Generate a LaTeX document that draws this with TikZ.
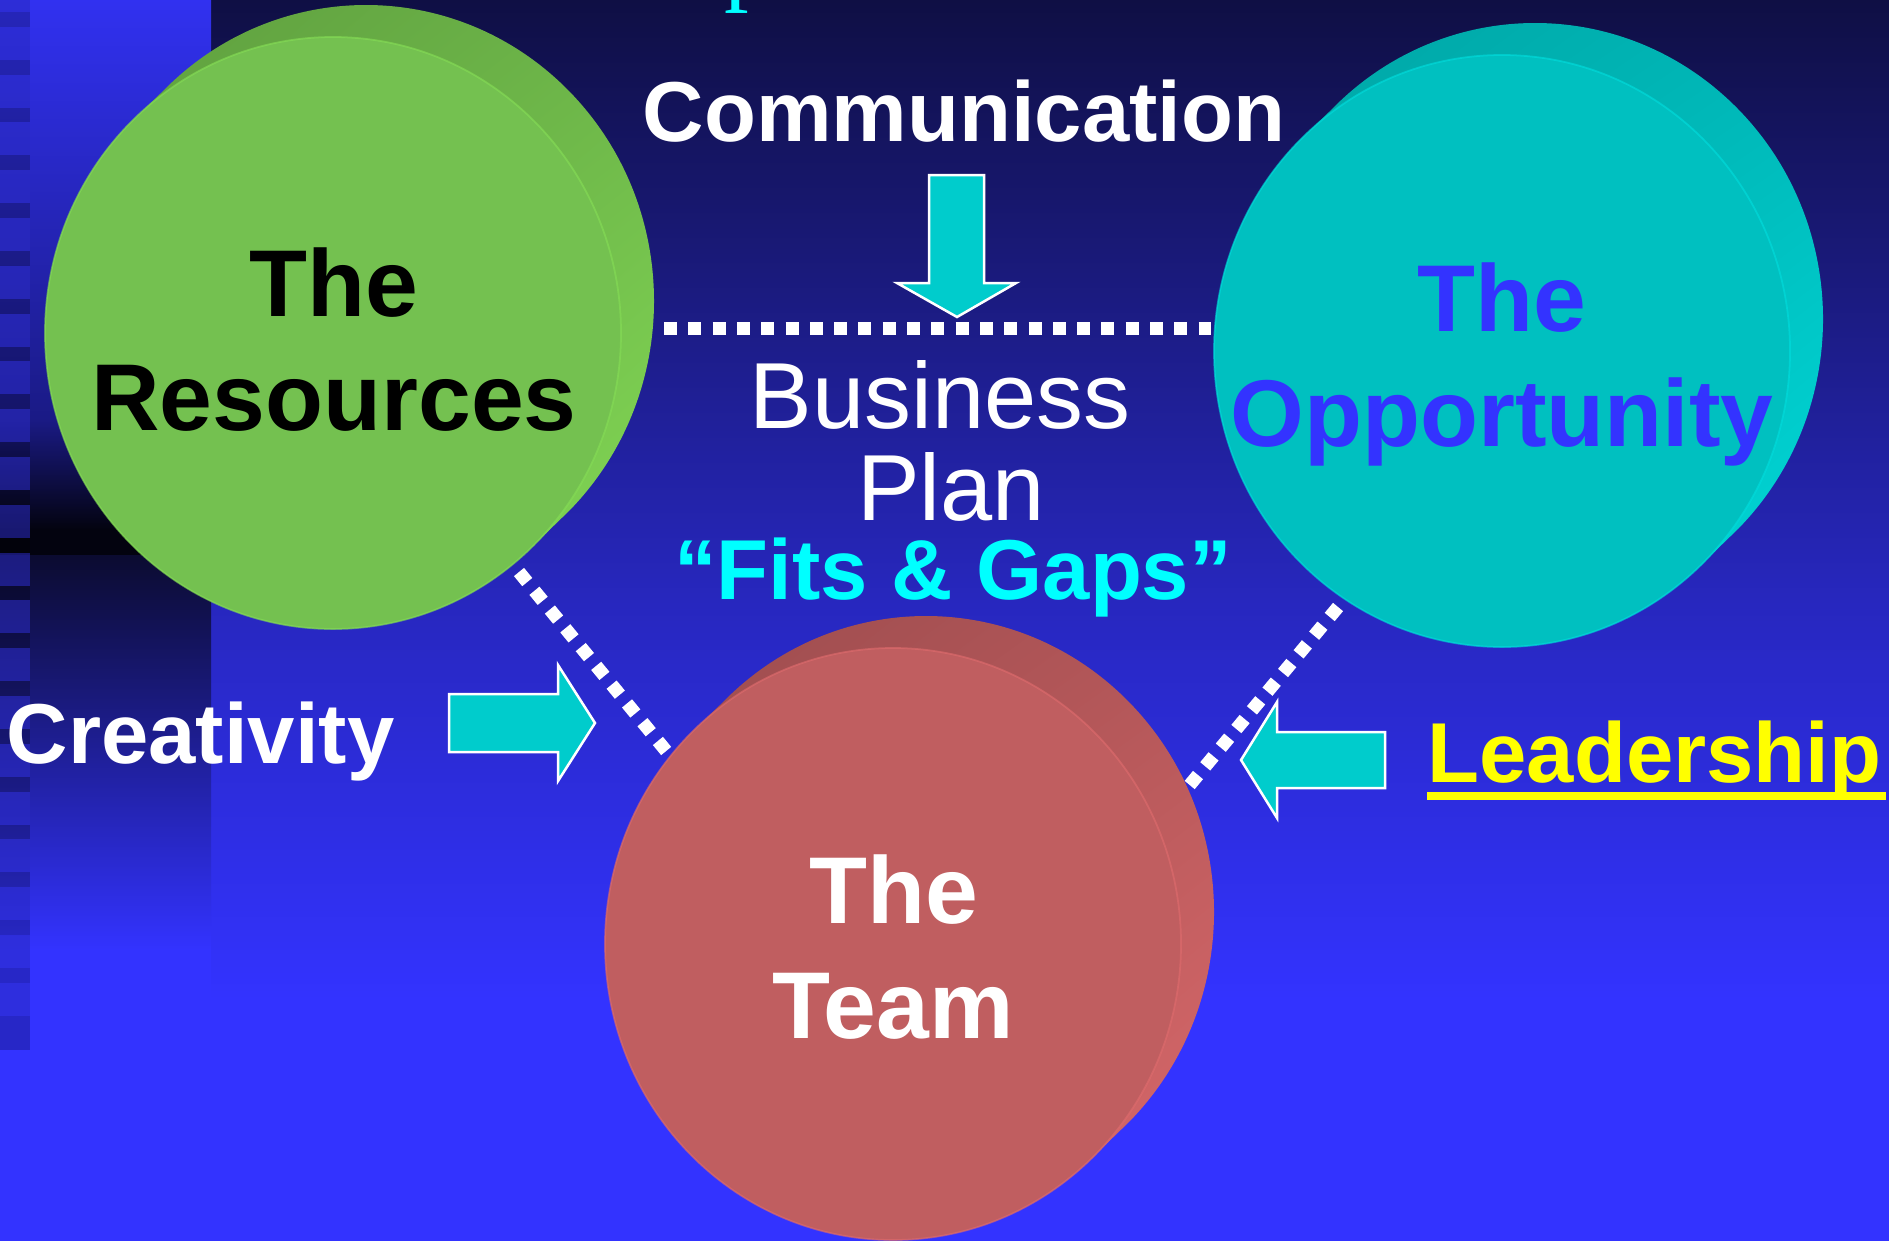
\documentclass[tikz,border=0pt]{standalone}
\usepackage{fontspec}
\setmainfont{Liberation Sans}
\newfontfamily\titleserif{Liberation Serif}
\usepackage{xcolor}
\usepackage{tikz}
\usetikzlibrary{positioning,calc,shadings}

\definecolor{bgtop}{HTML}{0F0F44}
\definecolor{bgmid}{HTML}{2727BE}
\definecolor{bgbot}{HTML}{3333FF}
\definecolor{striptop}{HTML}{3131F0}
\definecolor{stripmid}{HTML}{1A1A85}
\definecolor{stripdark}{HTML}{03030F}
\definecolor{stripnavy}{HTML}{0B0B30}
\definecolor{sqblue}{HTML}{3838FF}
\definecolor{arrowcyan}{HTML}{00CCCC}
\definecolor{fitscyan}{HTML}{00FFFF}
\definecolor{oppblue}{HTML}{3333FF}
\definecolor{leadyellow}{HTML}{FFFF00}
\definecolor{resface}{HTML}{74C150}
\definecolor{resdark}{HTML}{5C9A3C}
\definecolor{resmid}{HTML}{6CB449}
\definecolor{resbright}{HTML}{86DE56}
\definecolor{oppface}{HTML}{00C0C0}
\definecolor{oppdark}{HTML}{00A2A2}
\definecolor{oppmid}{HTML}{00B6B6}
\definecolor{oppbright}{HTML}{00DEDE}
\definecolor{teamface}{HTML}{C05E60}
\definecolor{teamdark}{HTML}{984A4C}
\definecolor{teammid}{HTML}{B25658}
\definecolor{teambright}{HTML}{E06C6E}

\begin{document}
\begin{tikzpicture}[
    bigword/.style={font=\fontsize{27}{33}\selectfont\bfseries, inner sep=0pt, anchor=base},
    midword/.style={font=\fontsize{24.2}{28}\selectfont\bfseries, inner sep=0pt, anchor=base},
    planword/.style={font=\fontsize{26.7}{26}\selectfont, text=white, inner sep=0pt, anchor=base},
    blockarrow/.style={fill=arrowcyan, draw=white, line width=0.025cm, line join=miter},
    dotline/.style={white, line width=0.13cm, dash pattern=on 0.13cm off 0.113cm}
]
    \useasboundingbox (0,0) rectangle (18.89,-12.41);
    \clip (0,0) rectangle (18.89,-12.41);

    % Background
    \shade[top color=bgtop, bottom color=bgmid] (0,0) rectangle (18.89,-6.0);
    \shade[top color=bgmid, bottom color=bgbot] (0,-5.99) rectangle (18.89,-10.0);
    \fill[bgbot] (0,-9.99) rectangle (18.89,-12.41);

    % Left strip
    \shade[top color=striptop, bottom color=stripmid] (0,0) rectangle (2.11,-4.2);
    \shade[top color=stripmid, bottom color=stripdark] (0,-4.19) rectangle (2.11,-5.3);
    \fill[stripdark] (0,-5.29) rectangle (2.11,-5.56);
    \shade[top color=stripnavy, bottom color=bgbot] (0,-5.55) rectangle (2.11,-9.5);
    \fill[bgbot] (0,-9.49) rectangle (2.11,-12.41);

    % Squares down the edge
    \fill[black, opacity=0.22] (0,0) rectangle (0.30,-10.5);
    \foreach \k in {0,...,21}
        \fill[sqblue, opacity=0.42] (0,{0.21-0.478*\k}) rectangle (0.30,{-0.12-0.478*\k});

    % Top fragment
    \node[font=\titleserif\fontsize{28}{30}\selectfont, text=fitscyan, inner sep=0pt, anchor=base west] (titlep) at (7.24,0.08) {p};

    % Circles (side, then face)
    \foreach \cx/\cy/\cname in {3.33/-3.33/res, 15.02/-3.51/opp, 8.93/-9.44/team}{
        \shade[shading=bilinear interpolation, upper left=\cname dark, upper right=\cname mid,
               lower left=\cname mid, lower right=\cname bright]
            (\cx,\cy) ++(135:2.88 and 2.96) -- ++(0.33,0.32)
            arc[start angle=135, end angle=-45, x radius=2.88, y radius=2.96]
            -- ++(-0.33,-0.32)
            arc[start angle=-45, end angle=-225, x radius=2.88, y radius=2.96] -- cycle;
        \fill[\cname face, draw=\cname bright, draw opacity=0.6, line width=0.5pt]
            (\cx,\cy) ellipse [x radius=2.88, y radius=2.96];
    }
    \coordinate (res) at (3.33,-3.33);
    \coordinate (opp) at (15.02,-3.51);
    \coordinate (team) at (8.93,-9.44);

    % Circle labels
    \node[bigword] (resthe) at (3.34,-3.16) {The};
    \node[bigword] (resname) at (3.34,-4.30) {Resources};
    \node[bigword, text=oppblue] (oppthe) at (15.02,-3.31) {The};
    \node[bigword, text=oppblue] (oppname) at (15.02,-4.46) {Opportunity};
    \node[bigword, text=white] (teamthe) at (8.94,-9.23) {The};
    \node[bigword, text=white] (teamname) at (8.93,-10.38) {Team};

    % Dotted links
    \coordinate (hdotL) at (6.64,-3.28);
    \coordinate (hdotR) at (12.11,-3.28);
    \coordinate (ldotA) at (5.19,-5.72);
    \coordinate (ldotB) at (6.67,-7.52);
    \coordinate (rdotA) at (13.38,-6.07);
    \coordinate (rdotB) at (11.88,-7.87);
    \draw[dotline] (hdotL) -- (hdotR);
    \draw[dotline] (ldotA) -- (ldotB);
    \draw[dotline] (rdotA) -- (rdotB);

    % Block arrows
    \draw[blockarrow] (9.29,-1.75) -- (9.84,-1.75) -- (9.84,-2.83) -- (10.16,-2.83)
        -- (9.57,-3.17) -- (8.97,-2.83) -- (9.29,-2.83) -- cycle;
    \draw[blockarrow] (4.49,-6.94) -- (5.58,-6.94) -- (5.58,-6.65) -- (5.95,-7.23)
        -- (5.58,-7.81) -- (5.58,-7.52) -- (4.49,-7.52) -- cycle;
    \draw[blockarrow] (13.85,-7.32) -- (12.77,-7.32) -- (12.77,-7.02) -- (12.41,-7.60)
        -- (12.77,-8.18) -- (12.77,-7.88) -- (13.85,-7.88) -- cycle;

    % Middle text
    \node[midword, text=white] (comm) at (9.64,-1.41) {Communication};
    \node[planword] (business) at (9.40,-4.28) {Business};
    \node[planword] (plan) at (9.51,-5.20) {Plan};
    \node[midword, text=fitscyan] (fits) at (9.53,-5.99) {“Fits \& Gaps”};

    % Side words
    \node[midword, text=white, anchor=base west] (creat) at (0.06,-7.63) {Creativity};
    \node[midword, text=leadyellow, anchor=base west] (lead) at (14.27,-7.82) {Leadership};
    \draw[leadyellow, line width=0.08cm] ([yshift=-0.14cm]lead.base west) -- ([xshift=0.04cm, yshift=-0.14cm]lead.base east);
\end{tikzpicture}
\end{document}
